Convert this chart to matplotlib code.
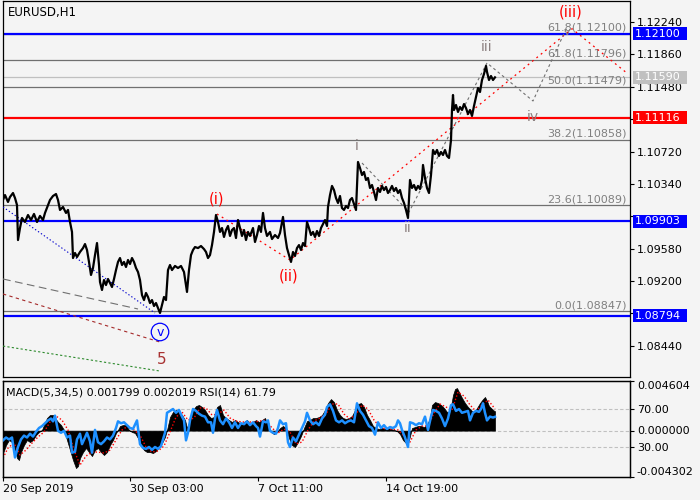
import matplotlib
matplotlib.use("Agg")
import matplotlib.pyplot as plt
from matplotlib.transforms import blended_transform_factory
from matplotlib.patches import Rectangle

BG = "#f4f4f4"

# EURUSD H1 closes (bar position, price)
price_pts = [
    (3, 1.10151), (5, 1.10209), (8, 1.10128), (10, 1.10186), (13, 1.10233), (15, 1.10174),
    (17, 1.10092), (18, 1.09681), (20, 1.09822), (22, 1.09940), (25, 1.09893), (28, 1.09975),
    (31, 1.09916), (34, 1.09987), (37, 1.09893), (40, 1.09964), (43, 1.09916), (45, 1.09999),
    (48, 1.10092), (50, 1.10151), (53, 1.10198), (56, 1.10221), (58, 1.10151), (60, 1.10034),
    (63, 1.10069), (66, 1.09999), (68, 1.10034), (70, 1.09893), (72, 1.09776), (73, 1.09470),
    (75, 1.09529), (77, 1.09482), (80, 1.09541), (83, 1.09587), (85, 1.09634), (87, 1.09564),
    (89, 1.09424), (91, 1.09271), (93, 1.09353), (95, 1.09505), (97, 1.09646), (99, 1.09388),
    (100, 1.09189), (102, 1.09095), (104, 1.09212), (106, 1.09153), (108, 1.09224), (110, 1.09177),
    (112, 1.09130), (114, 1.09224), (116, 1.09329), (118, 1.09424), (120, 1.09470), (122, 1.09388),
    (124, 1.09424), (126, 1.09365), (128, 1.09447), (130, 1.09400), (132, 1.09470), (134, 1.09424),
    (136, 1.09353), (138, 1.09306), (140, 1.09212), (142, 1.09036), (144, 1.08977), (146, 1.09060),
    (148, 1.09013), (150, 1.08942), (152, 1.08977), (154, 1.08907), (156, 1.08942), (158, 1.08883),
    (160, 1.08825), (162, 1.08918), (164, 1.09013), (166, 1.08977), (168, 1.09329), (170, 1.09388),
    (172, 1.09329), (175, 1.09377), (178, 1.09353), (181, 1.09377), (184, 1.09306), (186, 1.09153),
    (187, 1.09072), (189, 1.09329), (191, 1.09505), (193, 1.09564), (195, 1.09599), (198, 1.09587),
    (201, 1.09611), (204, 1.09575), (206, 1.09541), (208, 1.09470), (210, 1.09505), (212, 1.09622),
    (214, 1.09776), (216, 1.09975), (218, 1.09893), (220, 1.09776), (222, 1.09822), (224, 1.09717),
    (226, 1.09799), (228, 1.09846), (230, 1.09729), (232, 1.09799), (234, 1.09822), (236, 1.09705),
    (238, 1.09916), (240, 1.09822), (242, 1.09729), (244, 1.09799), (246, 1.09681), (248, 1.09776),
    (250, 1.09729), (253, 1.09822), (255, 1.09658), (257, 1.09740), (259, 1.09846), (261, 1.09776),
    (263, 1.09999), (265, 1.09822), (267, 1.09729), (270, 1.09776), (272, 1.09693), (275, 1.09740),
    (278, 1.09705), (280, 1.09764), (283, 1.09952), (285, 1.09740), (287, 1.09587), (289, 1.09505),
    (291, 1.09424), (293, 1.09541), (295, 1.09494), (297, 1.09587), (299, 1.09622), (301, 1.09564),
    (303, 1.09646), (305, 1.09611), (307, 1.09893), (309, 1.09822), (311, 1.09740), (313, 1.09776),
    (315, 1.09717), (317, 1.09787), (319, 1.09729), (321, 1.09822), (323, 1.09869), (325, 1.09916),
    (327, 1.09846), (328, 1.10069), (330, 1.10209), (332, 1.10316), (334, 1.10268), (336, 1.10174),
    (338, 1.10116), (340, 1.10198), (342, 1.10057), (344, 1.10034), (346, 1.10081), (348, 1.10057),
    (350, 1.10151), (352, 1.10174), (354, 1.10104), (356, 1.10034), (357, 1.10327), (358, 1.10597),
    (360, 1.10526), (362, 1.10444), (364, 1.10480), (366, 1.10386), (368, 1.10409), (370, 1.10292),
    (372, 1.10327), (374, 1.10245), (376, 1.10151), (378, 1.10292), (380, 1.10245), (382, 1.10316),
    (384, 1.10268), (386, 1.10304), (388, 1.10233), (390, 1.10268), (392, 1.10316), (394, 1.10256),
    (396, 1.10292), (398, 1.10233), (400, 1.10268), (402, 1.10174), (404, 1.10116), (406, 1.10034),
    (408, 1.09940), (410, 1.10386), (412, 1.10292), (414, 1.10327), (416, 1.10268), (418, 1.10316),
    (420, 1.10280), (422, 1.10386), (423, 1.10562), (425, 1.10409), (427, 1.10292), (429, 1.10233),
    (431, 1.10444), (433, 1.10738), (435, 1.10691), (437, 1.10738), (439, 1.10668), (441, 1.10714),
    (443, 1.10679), (445, 1.10738), (447, 1.10668), (449, 1.10644), (451, 1.10855), (452, 1.11207),
    (453, 1.11383), (454, 1.11207), (456, 1.11266), (458, 1.11184), (460, 1.11242), (462, 1.11207),
    (464, 1.11277), (466, 1.11230), (468, 1.11160), (470, 1.11207), (472, 1.11137), (474, 1.11254),
    (476, 1.11359), (478, 1.11465), (480, 1.11418), (482, 1.11559), (484, 1.11630), (486, 1.11724),
    (487, 1.11654), (489, 1.11559), (491, 1.11606), (493, 1.11559), (495, 1.11590),
]

# MACD(5,34,5) main histogram
macd_pts = [
    (3, -0.00208), (6, -0.00134), (9, -0.00087), (12, -0.00106), (15, -0.00180), (17, -0.00254),
    (19, -0.00273), (21, -0.00199), (24, -0.00134), (27, -0.00087), (30, -0.00106), (33, -0.00087),
    (36, -0.00041), (39, -0.00013), (42, 0.00006), (44, 0.00052), (47, 0.00117), (50, 0.00145),
    (53, 0.00145), (55, 0.00117), (58, 0.00080), (61, 0.00052), (64, 0.00006), (67, -0.00087),
    (70, -0.00180), (73, -0.00273), (76, -0.00347), (78, -0.00329), (80, -0.00254), (83, -0.00199),
    (86, -0.00161), (89, -0.00199), (92, -0.00236), (95, -0.00180), (98, -0.00161), (101, -0.00199),
    (104, -0.00226), (107, -0.00199), (110, -0.00134), (113, -0.00087), (116, -0.00022), (118, 0.00006),
    (120, 0.00043), (123, 0.00052), (126, 0.00052), (129, 0.00006), (132, -0.00013), (135, -0.00022),
    (138, -0.00069), (141, -0.00134), (144, -0.00180), (147, -0.00199), (150, -0.00199), (153, -0.00208),
    (156, -0.00189), (159, -0.00152), (162, -0.00115), (165, -0.00059), (167, 0.00006), (170, 0.00126),
    (173, 0.00173), (176, 0.00191), (179, 0.00173), (182, 0.00145), (185, 0.00098), (187, 0.00024),
    (190, 0.00098), (193, 0.00191), (196, 0.00228), (199, 0.00238), (202, 0.00219), (205, 0.00191),
    (208, 0.00145), (211, 0.00117), (214, 0.00126), (217, 0.00219), (220, 0.00238), (223, 0.00145),
    (226, 0.00117), (229, 0.00098), (232, 0.00080), (235, 0.00098), (238, 0.00080), (241, 0.00061),
    (244, 0.00080), (247, 0.00098), (250, 0.00061), (253, 0.00080), (256, 0.00098), (259, 0.00080),
    (262, 0.00098), (265, 0.00117), (268, 0.00052), (271, -0.00013), (274, -0.00032), (277, -0.00013),
    (280, 0.00024), (283, 0.00043), (286, 0.00024), (289, -0.00069), (292, -0.00134), (295, -0.00152),
    (298, -0.00106), (301, -0.00050), (304, 0.00024), (307, 0.00089), (310, 0.00098), (313, 0.00117),
    (316, 0.00117), (319, 0.00126), (322, 0.00145), (325, 0.00191), (328, 0.00256), (331, 0.00293),
    (334, 0.00265), (337, 0.00191), (340, 0.00145), (343, 0.00117), (346, 0.00108), (349, 0.00117),
    (352, 0.00135), (355, 0.00191), (358, 0.00247), (361, 0.00256), (364, 0.00219), (367, 0.00145),
    (370, 0.00098), (373, 0.00043), (376, 0.00024), (379, 0.00015), (382, 0.00024), (385, 0.00015),
    (388, 0.00024), (391, 0.00015), (394, 0.00006), (397, -0.00004), (400, -0.00032), (403, -0.00087),
    (406, -0.00115), (409, -0.00087), (412, 0.00024), (415, 0.00033), (418, 0.00043), (421, 0.00043),
    (424, 0.00033), (427, 0.00052), (430, 0.00117), (432, 0.00238), (435, 0.00265), (438, 0.00256),
    (441, 0.00238), (444, 0.00210), (447, 0.00173), (450, 0.00173), (453, 0.00330), (455, 0.00386),
    (457, 0.00395), (459, 0.00358), (462, 0.00303), (465, 0.00256), (468, 0.00219), (471, 0.00191),
    (474, 0.00163), (477, 0.00210), (480, 0.00256), (483, 0.00293), (485, 0.00312), (487, 0.00275),
    (489, 0.00228), (491, 0.00210), (493, 0.00191), (495, 0.001799),
]

# MACD signal line
signal_pts = [
    (3, -0.00254), (8, -0.00161), (14, -0.00115), (20, -0.00226), (26, -0.00180), (32, -0.00115),
    (38, -0.00059), (44, -0.00013), (50, 0.00080), (56, 0.00135), (62, 0.00098), (68, 0.00006),
    (74, -0.00180), (80, -0.00319), (86, -0.00236), (92, -0.00199), (98, -0.00199), (104, -0.00208),
    (110, -0.00180), (116, -0.00087), (122, 0.00006), (128, 0.00043), (134, 0.00006), (140, -0.00041),
    (146, -0.00152), (152, -0.00199), (158, -0.00189), (164, -0.00143), (170, -0.00013), (176, 0.00126),
    (182, 0.00173), (188, 0.00098), (194, 0.00117), (200, 0.00210), (206, 0.00210), (212, 0.00145),
    (218, 0.00154), (224, 0.00191), (230, 0.00117), (236, 0.00089), (242, 0.00080), (248, 0.00080),
    (254, 0.00080), (260, 0.00089), (266, 0.00098), (272, 0.00024), (278, -0.00022), (284, 0.00015),
    (290, -0.00013), (296, -0.00124), (302, -0.00106), (308, 0.00006), (314, 0.00089), (320, 0.00117),
    (326, 0.00154), (332, 0.00247), (338, 0.00247), (344, 0.00154), (350, 0.00108), (356, 0.00154),
    (362, 0.00238), (368, 0.00200), (374, 0.00098), (380, 0.00033), (386, 0.00015), (392, 0.00015),
    (398, 0.00006), (404, -0.00050), (410, -0.00106), (416, 0.00006), (422, 0.00043), (428, 0.00043),
    (434, 0.00163), (440, 0.00247), (446, 0.00219), (452, 0.00191), (458, 0.00358), (464, 0.00321),
    (470, 0.00238), (476, 0.00180), (482, 0.00238), (488, 0.00284), (495, 0.002019),
]

# RSI(14)
rsi_pts = [
    (3, 37), (6, 40), (9, 38), (12, 40), (15, 19), (18, 30), (21, 38), (24, 42), (27, 40), (30, 44),
    (33, 41), (36, 46), (39, 50), (42, 52), (45, 55), (48, 58), (51, 60), (53, 57), (55, 63), (58, 47),
    (61, 45), (64, 47), (67, 40), (70, 42), (72, 24), (75, 25), (77, 38), (80, 44), (82, 33), (85, 40),
    (87, 45), (90, 36), (92, 24), (95, 48), (98, 35), (101, 33), (104, 36), (107, 40), (110, 38),
    (113, 42), (116, 50), (118, 57), (121, 55), (124, 56), (127, 53), (130, 50), (133, 49), (137, 58),
    (140, 33), (143, 29), (146, 28), (149, 30), (152, 27), (155, 30), (158, 28), (161, 31), (163, 38),
    (165, 45), (167, 66), (170, 68), (173, 70), (176, 66), (179, 69), (182, 62), (184, 58), (186, 37),
    (188, 45), (190, 58), (193, 70), (196, 68), (199, 65), (202, 63), (205, 62), (208, 56), (211, 56),
    (213, 45), (215, 60), (217, 69), (220, 58), (223, 54), (226, 60), (229, 56), (232, 50), (235, 56),
    (238, 50), (241, 55), (244, 54), (247, 57), (250, 53), (253, 56), (256, 52), (258, 50), (260, 41),
    (263, 57), (266, 56), (268, 58), (270, 47), (273, 45), (276, 44), (278, 50), (280, 58), (283, 54),
    (286, 55), (288, 35), (290, 30), (293, 40), (296, 36), (299, 43), (302, 50), (305, 57), (307, 66),
    (310, 58), (313, 54), (316, 56), (319, 53), (322, 60), (325, 64), (327, 72), (330, 75), (333, 68),
    (336, 58), (339, 56), (342, 58), (345, 55), (348, 57), (351, 58), (354, 56), (357, 76), (360, 68),
    (363, 64), (366, 58), (369, 52), (372, 50), (375, 43), (378, 56), (381, 50), (384, 53), (387, 49),
    (390, 51), (393, 50), (396, 52), (398, 58), (400, 55), (402, 48), (405, 40), (408, 30), (410, 56),
    (413, 55), (416, 53), (419, 55), (422, 54), (425, 62), (428, 48), (431, 62), (433, 69), (436, 68),
    (439, 66), (442, 60), (445, 52), (448, 60), (451, 74), (453, 75), (456, 68), (459, 70), (462, 66),
    (465, 67), (468, 68), (470, 58), (473, 66), (476, 68), (479, 67), (481, 70), (483, 76), (485, 66),
    (487, 58), (490, 62), (493, 61), (495, 61.79),
]

# horizontal levels with their price boxes
level_price = [1.12100, 1.11590, 1.11116, 1.09903, 1.08794]
level_color = ["#0000ff", "#c0c0c0", "#ff0000", "#0000ff", "#0000ff"]

# fibonacci retracement levels
fib_pct = [61.8, 61.8, 50.0, 38.2, 23.6, 0.0]
fib_price = [1.12100, 1.11796, 1.11479, 1.10858, 1.10089, 1.08847]

# wave paths (bar, price)
red_wave = [(217, 1.09987), (290, 1.09447), (572, 1.12160), (628, 1.11630)]
grey_wave = [(362, 1.10585), (409, 1.10010), (487, 1.11759), (533, 1.11313), (567, 1.12181)]
blue_trend = [(3, 1.10069), (155, 1.08825)]
grey_trend = [(3, 1.09224), (138, 1.08872)]
brown_trend = [(3, 1.09048), (160, 1.08484)]
green_trend = [(3, 1.08437), (160, 1.08144)]

# wave labels
wave_text = ["(iii)", "v", "iii", "iv", "i", "ii", "(i)", "(ii)", "v", "5"]
wave_bar = [571, 567, 487, 533, 357, 408, 216, 289, 160, 162]
wave_price = [1.12357, 1.12122, 1.11946, 1.11125, 1.10785, 1.09822, 1.10163, 1.09259, 1.08602, 1.08285]
wave_color = ["#ff0000", "#808080", "#8c8080", "#8c8080", "#8c8080", "#8c8080",
              "#ff0000", "#ff0000", "#0000ff", "#a83232"]
wave_size = [10.5, 8, 10, 10, 10, 10, 10.5, 10.5, 9, 11]

# price scale; labels hidden behind the level boxes are left blank
price_ticks = [1.08440, 1.08820, 1.09200, 1.09580, 1.09960, 1.10340,
               1.10720, 1.11100, 1.11480, 1.11860, 1.12240]
price_tick_labels = ["1.08440", "", "1.09200", "1.09580", "", "1.10340",
                     "1.10720", "", "1.11480", "1.11860", "1.12240"]
time_ticks = [3, 130, 258, 386]
time_labels = ["20 Sep 2019", "30 Sep 03:00", "7 Oct 11:00", "14 Oct 19:00"]

plt.rcParams["font.family"] = "DejaVu Sans"

fig = plt.figure(figsize=(7, 5), dpi=100, facecolor=BG)
ax = fig.add_axes([3 / 700, 123 / 500, 627 / 700, 376 / 500], facecolor=BG)
ax2 = fig.add_axes([3 / 700, 23 / 500, 627 / 700, 96 / 500], facecolor=BG)

# ---- main price panel ----
ax.set_xlim(3, 630)
ax.set_ylim(1.08074, 1.12486)

for p in fib_price:
    ax.axhline(p, color="#707070", lw=0.9, zorder=1)
for p, c in zip(level_price, level_color):
    ax.axhline(p, color=c, lw=0.9 if c == "#c0c0c0" else 1.6, zorder=2)

yx = blended_transform_factory(ax.transAxes, ax.transData)
for pct, p in zip(fib_pct, fib_price):
    ax.text(0.995, p + 0.00012, f"{pct:.1f}({p:.5f})", transform=yx, ha="right", va="bottom",
            fontsize=8, color="#808080", zorder=3)

def path(pts, **kw):
    xs, ys = zip(*pts)
    ax.plot(xs, ys, **kw)

path(blue_trend, color="#0000cd", lw=0.8, dashes=(1.2, 2), zorder=3)
path(grey_trend, color="#707070", lw=0.8, dashes=(7, 4), zorder=3)
path(brown_trend, color="#a52a2a", lw=0.8, dashes=(3, 3), zorder=3)
path(green_trend, color="#2e8b2e", lw=0.8, dashes=(2, 2), zorder=3)
path(red_wave, color="#ff0000", lw=0.9, dashes=(1.5, 3), zorder=3, clip_on=False)
path(grey_wave, color="#707070", lw=0.8, dashes=(2.5, 2.5), zorder=3)

bx, by = zip(*price_pts)
ax.plot(bx, by, color="black", lw=1.6, zorder=4)

for t, xb, yp, c, s in zip(wave_text, wave_bar, wave_price, wave_color, wave_size):
    kw = {}
    if t == "v" and c == "#0000ff":
        kw["bbox"] = dict(boxstyle="circle,pad=0.18", fc="none", ec="#0000ff", lw=0.9)
    ax.text(xb, yp, t, color=c, fontsize=s, ha="center", va="center", zorder=5, **kw)

ax.text(0.008, 0.97, "EURUSD,H1", transform=ax.transAxes, fontsize=8.5, va="center", ha="left")

ax.set_xticks([])
ax.yaxis.tick_right()
ax.set_yticks(price_ticks)
ax.set_yticklabels(price_tick_labels)
ax.tick_params(axis="y", direction="out", length=3, pad=2, labelsize=8, width=0.8)

# price boxes on the scale
box_h = 0.00076
for p, c in zip(level_price, level_color):
    ax.add_patch(Rectangle((1 + 3 / 627, p - box_h), 54 / 627, 2 * box_h, transform=yx,
                           facecolor=c, edgecolor="none", clip_on=False, zorder=6))
    ax.text(1 + 5 / 627, p, f"{p:.5f}", transform=yx, color="white", fontsize=8,
            ha="left", va="center", zorder=7, clip_on=False)

for sp in ax.spines.values():
    sp.set_linewidth(0.9)

# ---- MACD / RSI panel ----
macd_lo, macd_hi = -0.004302, 0.004604
ax2.set_xlim(3, 630)
ax2.set_ylim(macd_lo, macd_hi)
rsi_ax = ax2.twinx()
rsi_ax.set_ylim(-1.6, 99.5)

ax2.axhline(0, color="#c0c0c0", lw=0.8, dashes=(3, 2), zorder=0)
rx = blended_transform_factory(ax2.transAxes, rsi_ax.transData)
for lvl in (70, 30):
    ax2.plot([0, 1], [lvl, lvl], transform=rx, color="#c0c0c0", lw=0.8, dashes=(3, 2), zorder=0)

mx, my = zip(*macd_pts)
ax2.fill_between(mx, 0, my, color="black", lw=0.5, zorder=2)
sx, sy = zip(*signal_pts)
ax2.plot(sx, sy, color="#ff0000", lw=1.0, dashes=(1, 1.5), zorder=3)
rxs, rys = zip(*rsi_pts)
rsi_ax.plot(rxs, rys, color="#1e90ff", lw=1.8, zorder=4)

ax2.text(0.004, 0.885, "MACD(5,34,5) 0.001799 0.002019 RSI(14) 61.79", transform=ax2.transAxes,
         fontsize=8, va="center", ha="left")

ax2.yaxis.tick_right()
ax2.set_yticks([macd_lo, 0, macd_hi])
ax2.set_yticklabels(["-0.004302", "0.000000", "0.004604"])
for lbl, va in zip(ax2.get_yticklabels(), ["bottom", "center", "top"]):
    lbl.set_va(va)
ax2.tick_params(axis="y", direction="out", length=3, pad=2, labelsize=8, width=0.8)
rsi_ax.set_yticks([30, 70])
rsi_ax.set_yticklabels(["30.00", "70.00"])
rsi_ax.tick_params(axis="y", direction="out", length=3, pad=2, labelsize=8, width=0.8)

ax2.set_xticks(time_ticks)
ax2.set_xticklabels(time_labels, ha="left")
ax2.tick_params(axis="x", direction="out", length=3, pad=2, labelsize=8, width=0.8)

for sp in list(ax2.spines.values()) + list(rsi_ax.spines.values()):
    sp.set_linewidth(0.9)

fig.savefig("out.png", dpi=100, facecolor=BG)
